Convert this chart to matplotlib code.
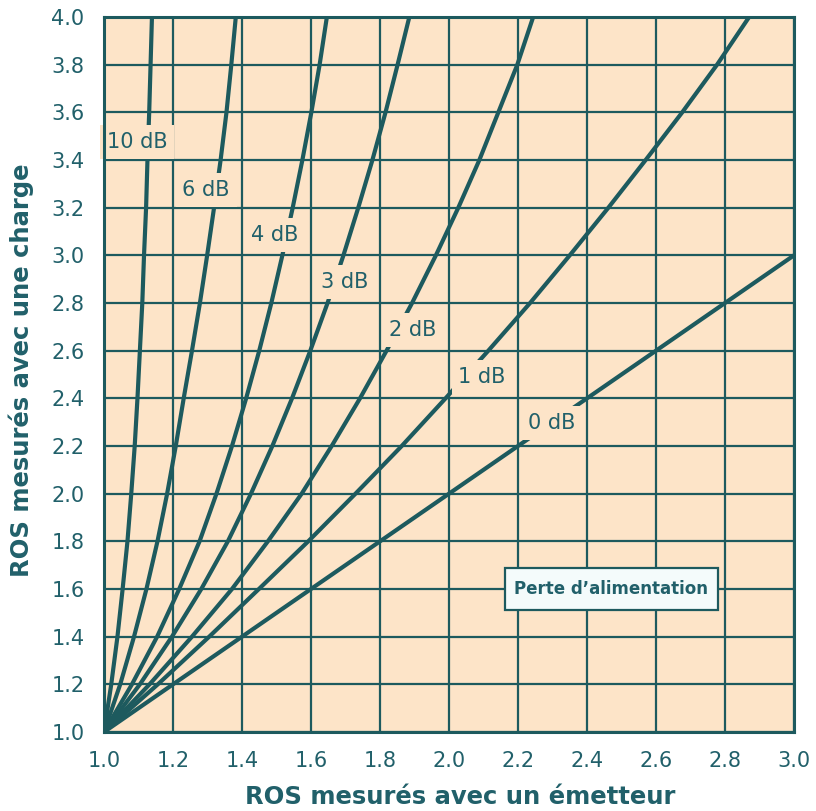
import matplotlib
matplotlib.use("Agg")
import matplotlib.pyplot as plt
from matplotlib.patches import Rectangle

# ---- data ----
y_levels = [1.0, 1.2, 1.4, 1.6, 1.8, 2.0, 2.2, 2.4, 2.6, 2.8, 3.0, 3.2, 3.4, 3.6, 3.8, 4.0]

x_0db_x = [1.0, 3.0]
x_0db_y = [1.0, 3.0]
x_1db = [1.0, 1.156, 1.305, 1.449, 1.592, 1.729, 1.863, 1.990, 2.114, 2.235, 2.350, 2.462, 2.570, 2.676, 2.777, 2.870]
x_2db = [1.0, 1.132, 1.255, 1.371, 1.475, 1.573, 1.660, 1.742, 1.819, 1.893, 1.962, 2.027, 2.088, 2.143, 2.198, 2.244]
x_3db = [1.0, 1.104, 1.197, 1.282, 1.359, 1.426, 1.488, 1.545, 1.598, 1.648, 1.694, 1.737, 1.778, 1.816, 1.851, 1.885]
x_4db = [1.0, 1.081, 1.154, 1.218, 1.277, 1.326, 1.371, 1.412, 1.450, 1.485, 1.517, 1.547, 1.575, 1.601, 1.625, 1.646]
x_6db = [1.0, 1.047, 1.087, 1.123, 1.155, 1.183, 1.208, 1.231, 1.255, 1.278, 1.299, 1.319, 1.338, 1.355, 1.369, 1.382]
x_10db = [1.0, 1.021, 1.039, 1.054, 1.068, 1.079, 1.089, 1.097, 1.104, 1.111, 1.116, 1.122, 1.126, 1.131, 1.135, 1.139]

curve_labels = ["10 dB", "6 dB", "4 dB", "3 dB", "2 dB", "1 dB", "0 dB"]
label_x = [1.096, 1.296, 1.496, 1.699, 1.896, 2.096, 2.299]
label_y = [3.476, 3.274, 3.086, 2.888, 2.687, 2.49, 2.297]

x_ticks = [1.0, 1.2, 1.4, 1.6, 1.8, 2.0, 2.2, 2.4, 2.6, 2.8, 3.0]
y_ticks = [1.0, 1.2, 1.4, 1.6, 1.8, 2.0, 2.2, 2.4, 2.6, 2.8, 3.0, 3.2, 3.4, 3.6, 3.8, 4.0]

x_title = "ROS mesurés avec un émetteur"
y_title = "ROS mesurés avec une charge"
box_text = "Perte d\u2019alimentation"

# ---- style ----
BG = "#FDE4C8"
TEAL = "#1D5A5E"
TXT = "#21606A"
plt.rcParams["font.family"] = ["DejaVu Sans"]

fig = plt.figure(figsize=(8.16, 8.11), dpi=100)
ax = fig.add_axes([104 / 816, 1 - 732 / 811, 690 / 816, 715 / 811])
ax.set_facecolor(BG)
ax.set_xlim(1.0, 3.0)
ax.set_ylim(1.0, 4.0)

ax.set_xticks(x_ticks)
ax.set_yticks(y_ticks)
ax.set_xticklabels([f"{v:.1f}" for v in x_ticks])
ax.set_yticklabels([f"{v:.1f}" for v in y_ticks])
ax.tick_params(length=0, labelsize=15, labelcolor=TXT)
ax.tick_params(axis="x", pad=14)
ax.tick_params(axis="y", pad=14)
ax.grid(True, color=TEAL, linewidth=1.6, zorder=1)
ax.set_axisbelow(True)
for sp in ax.spines.values():
    sp.set_color(TEAL)
    sp.set_linewidth(2.2)
    sp.set_zorder(8)

lw = 3.0
ax.plot(x_0db_x, x_0db_y, color=TEAL, lw=lw, zorder=3,
        solid_capstyle="butt", solid_joinstyle="round")
for xs in [x_1db, x_2db, x_3db, x_4db, x_6db, x_10db]:
    ax.plot(xs, y_levels, color=TEAL, lw=lw, zorder=3,
            solid_capstyle="butt", solid_joinstyle="round")

for txt, lx, ly in zip(curve_labels, label_x, label_y):
    ax.text(lx, ly, txt, ha="center", va="center", fontsize=15, color=TXT,
            zorder=5, bbox=dict(boxstyle="square,pad=0.32", fc=BG, ec="none"))

ax.add_patch(Rectangle((2.162, 1.512), 0.618, 0.176, facecolor="#F4FBFB",
                       edgecolor=TEAL, linewidth=1.6, zorder=5))
ax.text(2.471, 1.600, box_text, ha="center", va="center", fontsize=12.0,
        fontweight="bold", color=TXT, zorder=6)

fig.text(460 / 816, 1 - 809 / 811, x_title, ha="center", va="bottom",
         fontsize=17.5, fontweight="bold", color=TXT)
fig.text(21 / 816, 1 - 370 / 811, y_title, ha="center", va="center",
         rotation=90, fontsize=17.5, fontweight="bold", color=TXT)

fig.savefig("out.png", dpi=100, facecolor="white")
